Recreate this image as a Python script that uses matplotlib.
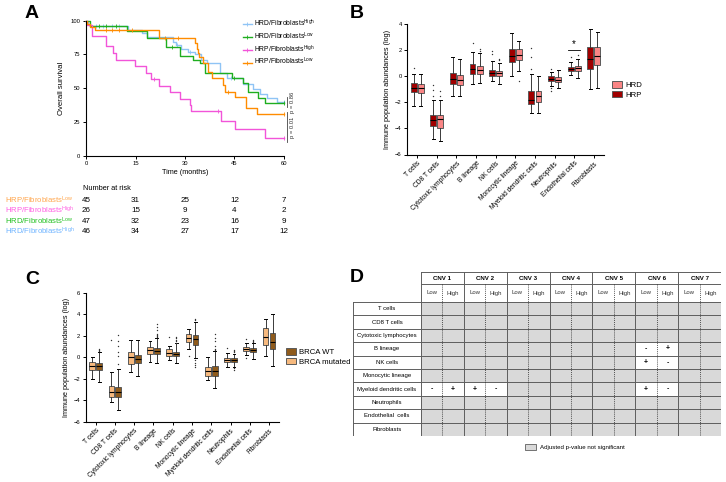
import matplotlib
matplotlib.use("Agg")
import matplotlib.pyplot as plt
from matplotlib.patches import Rectangle, Patch
from matplotlib.lines import Line2D
from matplotlib.transforms import blended_transform_factory

plt.rcParams['font.family'] = ['Liberation Sans', 'DejaVu Sans']
plt.rcParams['mathtext.fontset'] = 'custom'
plt.rcParams['mathtext.rm'] = 'Liberation Sans'
plt.rcParams['mathtext.default'] = 'rm'
plt.rcParams['axes.linewidth'] = 0.8

W, H = 726, 482

# ---------------- datos panel A (Kaplan-Meier) ----------------
km_labels = ['HRD/Fibroblasts$^{High}$', 'HRD/Fibroblasts$^{Low}$',
             'HRP/Fibroblasts$^{High}$', 'HRP/Fibroblasts$^{Low}$']
km_colors = ['#8fc4f5', '#1fae1f', '#f254d9', '#ff8c00']

hrd_high_t = [0, 0.7, 1.2, 12.7, 16.9, 18.4, 26.3, 27.3, 28.8, 30.8, 33.0, 35.0, 36.6, 40.6, 42.6, 47.7, 50.7, 52.7, 54.7, 57.8]
hrd_high_s = [100, 97.5, 96.3, 93.1, 90.6, 88.1, 84.4, 82.0, 78.8, 77.0, 75.0, 70.9, 68.4, 61.0, 57.3, 53.0, 49.1, 46.0, 43.0, 40.0]
hrd_low_t = [0, 1.2, 12.3, 18.4, 24.2, 28.5, 32.5, 34.5, 36.1, 44.1, 47.5, 49.0, 52.2, 54.2]
hrd_low_s = [100, 96.3, 92.6, 86.9, 80.7, 73.8, 70.9, 68.4, 61.0, 57.3, 53.6, 46.9, 42.5, 39.3]
hrp_high_t = [0, 0.4, 1.7, 6.1, 8.3, 9.1, 14.8, 18.2, 19.7, 22.1, 25.5, 28.5, 31.5, 31.8, 40.9, 45.2, 54.2]
hrp_high_s = [100, 96.8, 88.9, 81.2, 75.8, 70.9, 66.4, 61.5, 57.0, 51.6, 47.2, 42.2, 37.5, 33.1, 25.7, 19.5, 13.1]
hrp_low_t = [0, 0.4, 1.2, 2.7, 22.1, 33.0, 33.5, 33.8, 34.3, 35.6, 37.1, 38.1, 41.6, 42.1, 45.2, 48.5, 51.7]
hrp_low_s = [100, 97.8, 95.6, 93.3, 87.4, 83.2, 78.8, 76.3, 73.3, 68.4, 62.2, 57.3, 52.3, 47.4, 43.2, 35.1, 30.6]
km_censor = [[3, 5, 8, 10, 27.5, 31.5, 44, 60],
             [4, 6, 9, 26, 45, 60],
             [20.5, 40, 60],
             [6, 8, 10, 14, 24, 28, 43, 60]]

risk_times = [0, 15, 30, 45, 60]
risk_labels = ['HRP/Fibroblasts$^{Low}$', 'HRP/Fibroblasts$^{High}$',
               'HRD/Fibroblasts$^{Low}$', 'HRD/Fibroblasts$^{High}$']
risk_colors = ['#ffa64d', '#ff5fe3', '#22c022', '#6fb4ff']
risk_counts = [[45, 31, 25, 12, 7],
               [26, 15, 9, 4, 2],
               [47, 32, 23, 16, 9],
               [46, 34, 27, 17, 12]]

# ---------------- datos panel B y C (boxplots) ----------------
cells = ['T cells', 'CD8 T cells', 'Cytotoxic lymphocytes', 'B lineage', 'NK cells',
         'Monocytic lineage', 'Myeloid dendritic cells', 'Neutrophils', 'Endothelial cells',
         'Fibroblasts']

# (bigote inf, q1, mediana, q3, bigote sup)
b_hrp_box = [(-2.3, -1.2, -0.9, -0.51, 0.2), (-4.8, -3.78, -3.34, -2.93, -1.8),
             (-1.54, -0.56, -0.23, 0.26, 1.5), (-0.62, 0.15, 0.6, 0.93, 1.9),
             (-0.36, 0.05, 0.28, 0.52, 1.18), (0.05, 1.13, 1.54, 2.08, 3.3),
             (-2.83, -2.1, -1.8, -1.13, 0.2), (-0.72, -0.36, -0.18, 0.0, 0.3),
             (0.08, 0.38, 0.56, 0.69, 1.1), (-0.95, 0.56, 1.36, 2.26, 3.62)]
b_hrp_out = [[0.67], [-0.7, -1.08, -1.47], [], [2.55], [1.75, 1.95], [],
             [0.6, 1.5, 2.2], [0.55, -0.93, -1.1], [1.49], []]
b_hrd_box = [(-2.3, -1.25, -0.92, -0.56, 0.2), (-5.0, -3.96, -3.26, -3.0, -1.8),
             (-1.54, -0.64, -0.26, 0.13, 1.3), (-0.5, 0.2, 0.52, 0.82, 1.8),
             (-0.56, 0.05, 0.23, 0.41, 1.0), (0.41, 1.28, 1.67, 2.1, 2.72),
             (-2.83, -1.98, -1.54, -1.13, 0.05), (-0.9, -0.41, -0.26, -0.08, 0.51),
             (-0.1, 0.41, 0.64, 0.82, 1.36), (-0.87, 0.9, 1.59, 2.26, 3.42)]
b_hrd_out = [[], [-1.13, -1.47], [], [2.1, 1.95], [1.28, 1.36], [-0.33],
             [], [], [1.67], []]

c_mut_box = [(-2.06, -1.19, -0.82, -0.41, 0.05), (-4.13, -3.67, -3.2, -2.65, -1.42),
             (-1.41, -0.63, 0.05, 0.52, 1.6), (-0.4, 0.27, 0.64, 0.98, 1.5),
             (-0.3, 0.11, 0.42, 0.73, 1.05), (0.8, 1.38, 1.82, 2.13, 2.65),
             (-2.08, -1.72, -1.28, -0.88, 0.05), (-0.88, -0.48, -0.26, -0.05, 0.42),
             (0.2, 0.61, 0.79, 0.98, 1.29), (0.08, 1.13, 1.91, 2.69, 3.6)]
c_mut_out = [[], [1.6], [], [], [1.9], [0.12], [], [0.85], [1.65, -0.05], []]
c_wt_box = [(-2.28, -1.22, -0.82, -0.57, 0.45), (-4.9, -3.67, -3.2, -2.74, -1.1),
            (-1.76, -0.57, -0.17, 0.2, 1.6), (-0.58, 0.27, 0.58, 0.82, 1.75),
            (-0.5, 0.11, 0.33, 0.52, 1.3), (-0.1, 1.13, 1.66, 2.07, 3.3),
            (-2.84, -1.72, -1.28, -0.82, 0.55), (-0.88, -0.41, -0.23, -0.05, 0.3),
            (-0.13, 0.45, 0.64, 0.82, 1.3), (-0.86, 0.73, 1.44, 2.28, 4.06)]
c_wt_out = [[0.55, 0.65, 0.75],
            [-0.6, 0.1, 0.5, 1.0, 1.55, 2.05],
            [],
            [1.85, 1.95, 2.05, 2.2, 2.5, 2.8, 3.05],
            [1.35, 1.5, 1.6, 1.75, 1.9],
            [3.45, 3.6, -0.3, -0.5, -0.75, -0.95],
            [0.65, 0.8, 1.0, 1.5, 1.8, 2.2],
            [0.5, 0.6, 0.7, -1.0, -1.2],
            [1.4, 1.5, 1.6],
            []]

# ---------------- datos panel D (tabla) ----------------
tab_rows = ['T cells', 'CD8 T cells', 'Cytotoxic lymphocytes', 'B lineage', 'NK cells',
            'Monocytic lineage', 'Myeloid dendritic cells', 'Neutrophils', 'Endothelial  cells',
            'Fibroblasts']
tab_cnv = ['CNV 1', 'CNV 2', 'CNV 3', 'CNV 4', 'CNV 5', 'CNV 6', 'CNV 7']
tab_sub = ['Low', 'High']
# un caracter por columna Low/High; '.' = no significativo
tab_signs = ['..............',
             '..............',
             '..............',
             '..........-+..',
             '..........+-..',
             '..............',
             '-++-......+-..',
             '..............',
             '..............',
             '..............']


def caja(x0, y0, x1, y1):
    # convierte pixeles (origen arriba-izquierda) a fraccion de figura
    return [x0 / W, 1 - y1 / H, (x1 - x0) / W, (y1 - y0) / H]


def estilo_ejes(ax):
    ax.spines['top'].set_visible(False)
    ax.spines['right'].set_visible(False)
    ax.tick_params(length=2.5, width=0.7, labelsize=4.2, pad=1.5)


fig = plt.figure(figsize=(W / 100, H / 100), dpi=100)

# ===================== A =====================
axA = fig.add_axes(caja(86, 20.7, 284, 155.7))
km_t = [hrd_high_t, hrd_low_t, hrp_high_t, hrp_low_t]
km_s = [hrd_high_s, hrd_low_s, hrp_high_s, hrp_low_s]
for t, s, col, cens in zip(km_t, km_s, km_colors, km_censor):
    axA.step(t + [60], s + [s[-1]], where='post', color=col, lw=1.0, clip_on=False)
    cs = []
    for c in cens:
        idx = max(i for i in range(len(t)) if t[i] <= c)
        cs.append(s[idx])
    axA.plot(cens, cs, ls='none', marker='|', ms=2.5, mew=0.6, color=col, clip_on=False)
axA.set_xlim(0, 60)
axA.set_ylim(0, 100)
axA.set_xticks(risk_times)
axA.set_yticks([0, 25, 50, 75, 100])
estilo_ejes(axA)
axA.set_xlabel('Time (months)', fontsize=5.2, labelpad=2)
axA.set_ylabel('Overall survival', fontsize=5.6, labelpad=4)

handlesA = [Line2D([], [], color=c, lw=1.0, marker='|', ms=2.5, mew=0.6) for c in km_colors]
axA.legend(handlesA, km_labels, loc='upper left', bbox_to_anchor=(240 / W, 1 - 15 / H),
           bbox_transform=fig.transFigure, frameon=False, fontsize=4.9,
           handlelength=1.3, handletextpad=0.4, labelspacing=0.22, borderaxespad=0)

# corchetes de p
axA.plot([60.9, 60.9], [43.5, 36.0], color='#444444', lw=0.6, clip_on=False)
axA.plot([60.9, 60.9], [32.0, 10.5], color='#444444', lw=0.6, clip_on=False)
axA.text(62.6, 39.5, 'p = 0.86', rotation=90, ha='center', va='center', fontsize=4.2, color='#333333')
axA.text(62.6, 21.0, 'p = 0.01', rotation=90, ha='center', va='center', fontsize=4.2, color='#333333')

# numero en riesgo
tr = blended_transform_factory(axA.transData, fig.transFigure)
fig.text(83 / W, 1 - 189 / H, 'Number at risk', fontsize=5.3, ha='left', va='center')
for i, (lab, col, counts) in enumerate(zip(risk_labels, risk_colors, risk_counts)):
    y = 1 - (200 + 10.6 * i) / H
    fig.text(5 / W, y, lab, color=col, fontsize=5.6, ha='left', va='center')
    for tt, n in zip(risk_times, counts):
        axA.text(tt, y, str(n), transform=tr, ha='center', va='center', fontsize=5.8)


# ===================== B y C =====================
def dibujar_cajas(ax, cajas, outs, pos, color):
    stats = []
    for (lo, q1, med, q3, hi), f in zip(cajas, outs):
        stats.append(dict(whislo=lo, q1=q1, med=med, q3=q3, whishi=hi, fliers=f))
    ax.bxp(stats, positions=pos, widths=0.3, patch_artist=True, manage_ticks=False,
           boxprops=dict(facecolor=color, edgecolor='#5a5a5a', lw=0.7),
           medianprops=dict(color='black', lw=0.8),
           whiskerprops=dict(color='#3a3a3a', lw=0.7),
           capprops=dict(color='black', lw=0.7),
           flierprops=dict(marker='o', ms=1.0, mfc='#333333', mec='none'))


x = list(range(len(cells)))

axB = fig.add_axes(caja(407.3, 24.3, 603.7, 154.5))
dibujar_cajas(axB, b_hrp_box, b_hrp_out, [i - 0.18 for i in x], '#a00000')
dibujar_cajas(axB, b_hrd_box, b_hrd_out, [i + 0.18 for i in x], '#f98585')
axB.set_xlim(-0.5, 9.5)
axB.set_ylim(-6, 4)
axB.set_yticks([-6, -4, -2, 0, 2, 4])
axB.set_xticks(x)
axB.set_xticklabels(cells, rotation=45, ha='right', rotation_mode='anchor', fontsize=4.8)
estilo_ejes(axB)
axB.tick_params(axis='x', labelsize=4.8)
axB.set_ylabel('Immune population abundances (log)', fontsize=5.2, labelpad=3)
axB.plot([7.7, 8.3], [2.0, 2.0], color='black', lw=0.6)
axB.text(8.0, 2.12, '*', ha='center', va='bottom', fontsize=7)
axB.legend([Patch(fc='#f98585', ec='#5a5a5a', lw=0.7), Patch(fc='#a00000', ec='#5a5a5a', lw=0.7)],
           ['HRD', 'HRP'], loc='upper left', bbox_to_anchor=(609 / W, 1 - 78 / H),
           bbox_transform=fig.transFigure, frameon=False, fontsize=5.6,
           handlelength=1.3, handleheight=0.9, handletextpad=0.4, labelspacing=0.25, borderaxespad=0)

axC = fig.add_axes(caja(86, 292.7, 278.7, 421.7))
dibujar_cajas(axC, c_mut_box, c_mut_out, [i - 0.18 for i in x], '#f6b97e')
dibujar_cajas(axC, c_wt_box, c_wt_out, [i + 0.18 for i in x], '#8f5b1c')
axC.set_xlim(-0.5, 9.5)
axC.set_ylim(-6, 6)
axC.set_yticks([-6, -4, -2, 0, 2, 4, 6])
axC.set_xticks(x)
axC.set_xticklabels(cells, rotation=45, ha='right', rotation_mode='anchor', fontsize=4.8)
estilo_ejes(axC)
axC.tick_params(axis='x', labelsize=4.8)
axC.set_ylabel('Immune population abundances (log)', fontsize=5.2, labelpad=3)
axC.legend([Patch(fc='#8f5b1c', ec='#5a5a5a', lw=0.7), Patch(fc='#f6b97e', ec='#5a5a5a', lw=0.7)],
           ['BRCA WT', 'BRCA mutated'], loc='upper left', bbox_to_anchor=(283 / W, 1 - 345 / H),
           bbox_transform=fig.transFigure, frameon=False, fontsize=5.6,
           handlelength=1.3, handleheight=0.9, handletextpad=0.4, labelspacing=0.25, borderaxespad=0)

# ===================== D =====================
axD = fig.add_axes(caja(353, 272, 721, 436))
axD.axis('off')
lab_w = 68 / 21.43
h1, h2 = 12 / 13.4, 18 / 13.4
ncol = len(tab_cnv) * 2
axD.set_xlim(-lab_w, ncol)
axD.set_ylim(len(tab_rows), -(h1 + h2))
linea = '#5e5e5e'

for r, nombre in enumerate(tab_rows):
    axD.text(-lab_w / 2, r + 0.5, nombre, ha='center', va='center', fontsize=4.3)
    for c in range(ncol):
        signo = tab_signs[r][c]
        fc = '#d9d9d9' if signo == '.' else 'white'
        axD.add_patch(Rectangle((c, r), 1, 1, fc=fc, ec='none'))
        if signo != '.':
            axD.text(c + 0.5, r + 0.5, signo, ha='center', va='center', fontsize=5, fontweight='bold')

for r in range(len(tab_rows) + 1):
    axD.plot([-lab_w, ncol], [r, r], color=linea, lw=0.7)
axD.plot([0, ncol], [-h2, -h2], color=linea, lw=0.7)
axD.plot([0, ncol], [-(h1 + h2), -(h1 + h2)], color=linea, lw=0.7)
axD.plot([-lab_w, -lab_w], [0, len(tab_rows)], color=linea, lw=0.7)
for g, nombre in enumerate(tab_cnv):
    axD.plot([2 * g, 2 * g], [-(h1 + h2), len(tab_rows)], color=linea, lw=0.7)
    axD.plot([2 * g + 1, 2 * g + 1], [-h2, len(tab_rows)], color='#222222', lw=0.5, ls=(0, (1.5, 1.5)))
    axD.text(2 * g + 1, -(h2 + h1 / 2), nombre, ha='center', va='center', fontsize=4.4, fontweight='bold')
    for k, sub in enumerate(tab_sub):
        axD.text(2 * g + k + 0.5, -h2 / 2, sub, ha='center', va='center', fontsize=4.3, color='#333333')
axD.plot([ncol, ncol], [-(h1 + h2), len(tab_rows)], color=linea, lw=0.7)

fig.legend([Patch(fc='#d9d9d9', ec=linea, lw=0.6)], ['Adjusted p-value not significant'],
           loc='center left', bbox_to_anchor=(523 / W, 1 - 447 / H), frameon=False,
           fontsize=4.4, handlelength=1.8, handleheight=1.0, handletextpad=0.5, borderaxespad=0)

# letras de panel
for letra, px, py in [('A', 25, 14), ('B', 350, 14), ('C', 25, 279), ('D', 350, 278)]:
    fig.text(px / W, 1 - py / H, letra, fontsize=14, fontweight='bold', ha='left', va='center')

fig.savefig('out.png', dpi=100)
